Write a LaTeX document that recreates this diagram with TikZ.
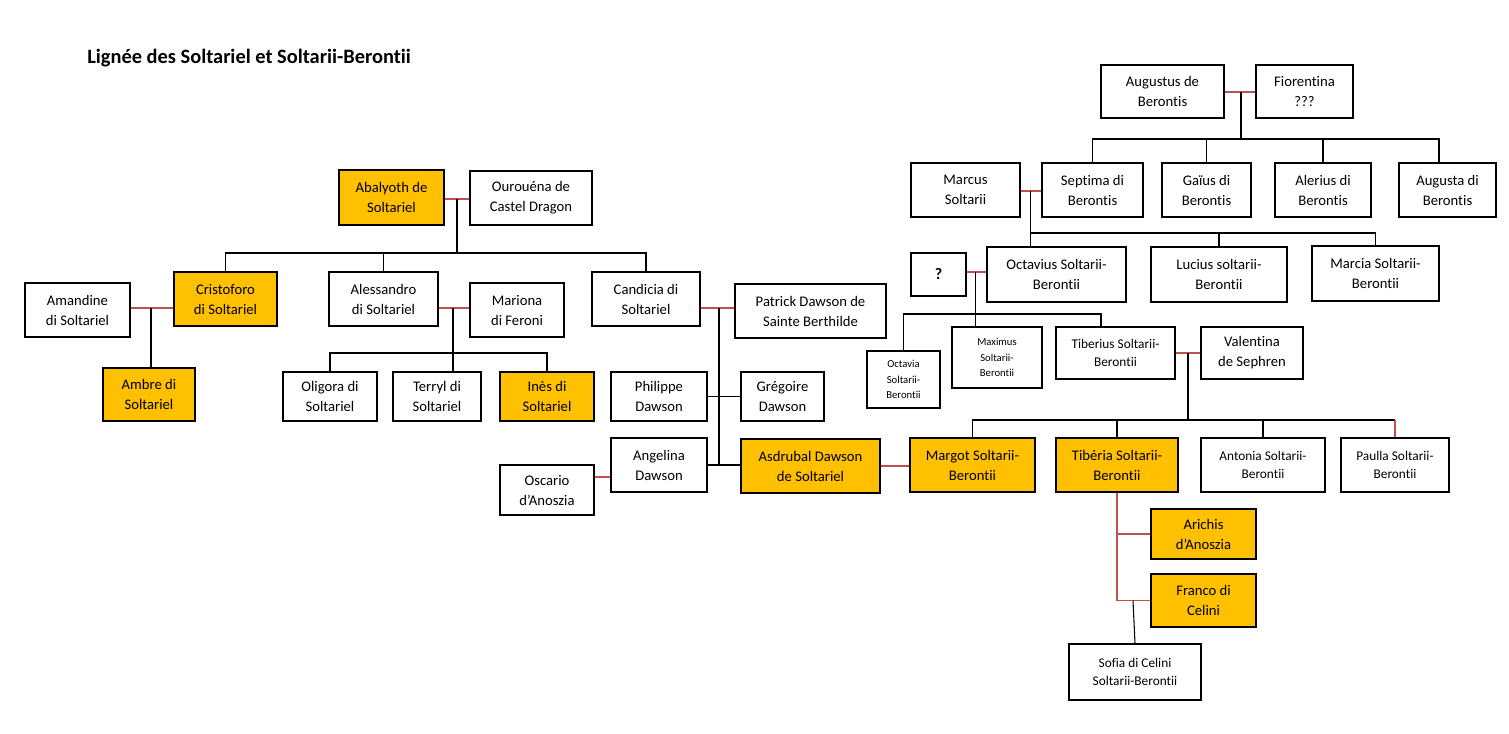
\documentclass[tikz,border=0pt]{standalone}
\usepackage{fontspec}
\setmainfont{Carlito}[Ligatures=NoCommon]
\usepackage{tikz}
\usetikzlibrary{calc}
\usepackage{xcolor}
\definecolor{ColHeir}{RGB}{255,192,0}
\definecolor{ColUnion}{RGB}{192,80,77}
\tikzstyle{NodePerson}=[rectangle,draw=black,fill=white,line width=0.8pt,inner sep=0pt,align=center,
font=\fontsize{11}{15}\selectfont]
\tikzstyle{NodeHeir}=[NodePerson,fill=ColHeir]
\tikzstyle{SmallText}=[font=\fontsize{10}{13.5}\selectfont]
\tikzstyle{TinyText}=[font=\fontsize{8}{11.5}\selectfont]
\tikzstyle{EdgeUnion}=[ColUnion,line width=1pt]
\tikzstyle{EdgeChild}=[black,line width=0.8pt]
\tikzset{BoxDim/.style 2 args={minimum width=#1*0.75pt,minimum height=#2*0.75pt}}
\begin{document}
\begin{tikzpicture}[x=0.75pt,y=-0.75pt]
        \fill[white](0,0)rectangle(1509,733);
        \node[font=\bfseries\fontsize{15.3}{18}\selectfont,anchor=base west,inner sep=0pt](title)at(87,63){Lignée des Soltariel et Soltarii-Berontii};
        % Soltariel
        \node[NodeHeir,BoxDim={105}{55}](abal)at(391.5,197.5){Abalyoth de\\Soltariel};
        \node[NodePerson,BoxDim={122}{54}](ouro)at(531,198){Ourouéna de\\Castel Dragon};
        \node[NodeHeir,BoxDim={103}{54}](cris)at(225.5,299){Cristoforo\\di Soltariel};
        \node[NodePerson,BoxDim={105}{54}](aman)at(77.5,310){Amandine\\di Soltariel};
        \node[NodeHeir,BoxDim={92}{53}](ambr)at(149,394.5){Ambre di\\Soltariel};
        \node[NodePerson,BoxDim={109}{54}](ales)at(383.5,299){Alessandro\\di Soltariel};
        \node[NodePerson,BoxDim={94}{54}](mari)at(517,310){Mariona\\di Feroni};
        \node[NodePerson,BoxDim={94}{49}](olig)at(330,396.5){Oligora di\\Soltariel};
        \node[NodePerson,BoxDim={88}{49}](terr)at(437,396.5){Terryl di\\Soltariel};
        \node[NodeHeir,BoxDim={94}{49}](ines)at(547,396.5){Inès di\\Soltariel};
        \node[NodePerson,BoxDim={108}{54}](cand)at(646,299){Candicia di\\Soltariel};
        \node[NodePerson,BoxDim={151}{54}](patr)at(810.5,311){Patrick Dawson de\\Sainte Berthilde};
        \node[NodePerson,BoxDim={96}{49}](phil)at(659,396.5){Philippe\\Dawson};
        \node[NodePerson,BoxDim={83}{49}](greg)at(782.5,396.5){Grégoire\\Dawson};
        \node[NodePerson,BoxDim={96}{54}](ange)at(659,465){Angelina\\Dawson};
        \node[NodeHeir,BoxDim={139}{54}](asdr)at(810.5,466){Asdrubal Dawson\\de Soltariel};
        \node[NodePerson,BoxDim={94}{50}](osca)at(547,490){Oscario\\d’Anoszia};
        % Berontis
        \node[NodePerson,BoxDim={123}{53}](augu)at(1162.5,91.5){Augustus de\\Berontis};
        \node[NodePerson,BoxDim={97}{53}](fior)at(1304.5,91.5){Fiorentina\\???};
        \node[NodePerson,BoxDim={109}{54}](marc)at(965.5,190){Marcus\\Soltarii};
        \node[NodePerson,BoxDim={101}{54}](sept)at(1092.5,190){Septima di\\Berontis};
        \node[NodePerson,BoxDim={89}{54}](gaiu)at(1206.5,190){Gaïus di\\Berontis};
        \node[NodePerson,BoxDim={96}{54}](aler)at(1323,190){Alerius di\\Berontis};
        \node[NodePerson,BoxDim={97}{54}](agta)at(1447.5,190){Augusta di\\Berontis};
        \node[NodePerson,BoxDim={55}{43},font=\bfseries\fontsize{12}{14}\selectfont](unkn)at(938.5,274.5){?};
        \node[NodePerson,BoxDim={139}{55}](octa)at(1056.5,274.5){Octavius Soltarii-\\Berontii};
        \node[NodePerson,BoxDim={136}{55}](luci)at(1219,274.5){Lucius soltarii-\\Berontii};
        \node[NodePerson,BoxDim={127}{55}](marcia)at(1375.5,273.5){Marcia Soltarii-\\Berontii};
        \node[NodePerson,TinyText,BoxDim={73}{57}](octv)at(903.5,379.5){Octavia\\Soltarii-\\Berontii};
        \node[NodePerson,TinyText,BoxDim={90}{61}](maxi)at(997,357.5){Maximus\\Soltarii-\\Berontii};
        \node[NodePerson,SmallText,BoxDim={119}{52}](tibe)at(1115.5,353){Tiberius Soltarii-\\Berontii};
        \node[NodePerson,BoxDim={102}{52}](vale)at(1252,353){Valentina\\de Sephren};
        \node[NodeHeir,BoxDim={125}{54}](marg)at(972.5,465){Margot Soltarii-\\Berontii};
        \node[NodeHeir,BoxDim={122}{54}](tibr)at(1117,465){Tibéria Soltarii-\\Berontii};
        \node[NodePerson,SmallText,BoxDim={124}{54}](anto)at(1263,465){Antonia Soltarii-\\Berontii};
        \node[NodePerson,SmallText,BoxDim={108}{54}](paul)at(1395,465){Paulla Soltarii-\\Berontii};
        \node[NodeHeir,BoxDim={105}{50}](aric)at(1203.5,534){Arichis\\d’Anoszia};
        \node[NodeHeir,BoxDim={105}{53}](fran)at(1203.5,600.5){Franco di\\Celini};
        \node[NodePerson,SmallText,BoxDim={132}{56}](sofi)at(1135,672){Sofia di Celini\\Soltarii-Berontii};
        % unions and children
        \coordinate(uAbal)at(457,199);
        \draw[EdgeUnion](abal.east|-uAbal)--(ouro.west|-uAbal);
        \coordinate(bAbal)at(457,253);
        \draw[EdgeChild](uAbal)--(bAbal);
        \draw[EdgeChild](cris.north)|-(bAbal);
        \draw[EdgeChild](cand.north)|-(bAbal);
        \draw[EdgeChild](ales.north)--(ales.north|-bAbal);
        \coordinate(uCris)at(151,308);
        \draw[EdgeUnion](aman.east|-uCris)--(cris.west|-uCris);
        \draw[EdgeChild](uCris)--(uCris|-ambr.north);
        \coordinate(uAles)at(453,308);
        \draw[EdgeUnion](ales.east|-uAles)--(mari.west|-uAles);
        \coordinate(bAles)at(453,353);
        \draw[EdgeChild](uAles)--(uAles|-terr.north);
        \draw[EdgeChild](olig.north)|-(bAles)-|(ines.north);
        \coordinate(uCand)at(719,308);
        \draw[EdgeUnion](cand.east|-uCand)--(patr.west|-uCand);
        \draw[EdgeChild](uCand)--(uCand|-asdr.west);
        \draw[EdgeChild](phil.east)--(greg.west);
        \draw[EdgeChild](ange.east)--(ange.east-|asdr.west);
        \coordinate(uOsca)at(602.5,477);
        \draw[EdgeUnion](osca.east|-uOsca)--(ange.west|-uOsca);
        \draw[EdgeUnion](asdr.east)--(asdr.east-|marg.west);
        \coordinate(uAugu)at(1241,92);
        \draw[EdgeUnion](augu.east|-uAugu)--(fior.west|-uAugu);
        \coordinate(bAugu)at(1241,139);
        \draw[EdgeChild](uAugu)--(bAugu);
        \draw[EdgeChild](sept.north)|-(bAugu);
        \draw[EdgeChild](bAugu)-|([xshift=-6.4pt]agta.north);
        \draw[EdgeChild](gaiu.north)--(gaiu.north|-bAugu);
        \draw[EdgeChild](aler.north)--(aler.north|-bAugu);
        \coordinate(uMarc)at(1030.5,191);
        \draw[EdgeUnion](marc.east|-uMarc)--(sept.west|-uMarc);
        \coordinate(bMarc)at(1030.5,233);
        \draw[EdgeChild](uMarc)--(uMarc|-octa.north);
        \draw[EdgeChild](bMarc)-|(marcia.north);
        \draw[EdgeChild](luci.north)--(luci.north|-bMarc);
        \coordinate(uOcta)at(975.5,272);
        \draw[EdgeUnion](unkn.east|-uOcta)--(octa.west|-uOcta);
        \coordinate(bOcta)at(975.5,314);
        \draw[EdgeChild](uOcta)--(uOcta|-maxi.north);
        \draw[EdgeChild](octv.north)|-(bOcta)-|([xshift=-10.9pt]tibe.north);
        \draw[EdgeUnion](tibe.east)--(vale.west);
        \coordinate(uTibe)at($(tibe.east)!.5!(vale.west)$);
        \coordinate(bTibe)at(1188,420);
        \draw[EdgeChild](uTibe)--(bTibe);
        \draw[EdgeChild](marg.north)|-(bTibe);
        \draw[EdgeChild](bTibe)--(bTibe-|paul.north);
        \draw[EdgeUnion](bTibe-|paul.north)--(paul.north);
        \draw[EdgeChild](tibr.north)--(tibr.north|-bTibe);
        \draw[EdgeChild](anto.north)--(anto.north|-bTibe);
        \draw[EdgeUnion](tibr.south)|-(fran.west);
        \draw[EdgeUnion](tibr.south|-aric.west)--(aric.west);
        \coordinate(uFran)at(1133,600.5);
        \draw[EdgeChild](uFran)--(sofi.north);
    \end{tikzpicture}
\end{document}
